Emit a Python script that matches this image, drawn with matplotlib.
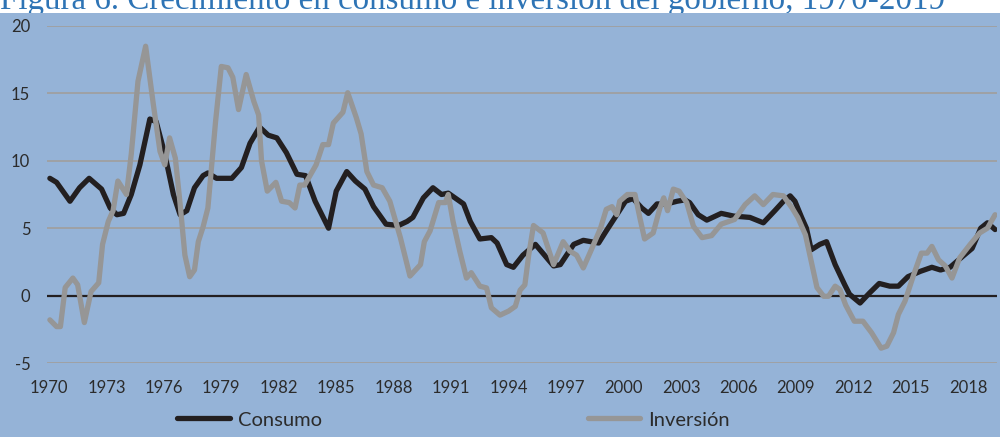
import matplotlib
matplotlib.use("Agg")
import matplotlib.pyplot as plt
from matplotlib.patches import Rectangle

# Consumo del gobierno (% crecimiento anual)
cons_t = [1970.05, 1970.4, 1971.1, 1971.6, 1972.1, 1972.75, 1973.2, 1973.55, 1973.9, 1974.3,
          1974.75, 1975.27, 1975.6, 1976.05, 1976.5, 1976.85, 1977.2, 1977.6, 1978.05, 1978.3,
          1978.75, 1979.55, 1980.05, 1980.5, 1981.0, 1981.45, 1981.9, 1982.4, 1982.95, 1983.4,
          1983.9, 1984.6, 1985.0, 1985.55, 1986.0, 1986.5, 1986.95, 1987.6, 1988.25, 1988.7,
          1989.0, 1989.55, 1990.05, 1990.5, 1990.85, 1991.65, 1992.0, 1992.5, 1993.1, 1993.4,
          1993.9, 1994.25, 1994.75, 1995.4, 1996.35, 1996.7, 1997.4, 1997.9, 1998.7, 1999.1,
          1999.65, 2000.1, 2000.5, 2000.95, 2001.3, 2001.75, 2002.25, 2002.8, 2003.2, 2003.45,
          2003.9, 2004.35, 2005.1, 2005.75, 2006.6, 2007.3, 2007.9, 2008.35, 2008.7, 2008.95,
          2009.3, 2009.55, 2009.8, 2010.25, 2010.6, 2011.05, 2011.55, 2011.8, 2012.35, 2012.85,
          2013.35, 2013.9, 2014.35, 2014.85, 2015.5, 2016.1, 2016.55, 2017.05, 2017.7, 2018.2,
          2018.65, 2019.0, 2019.4]
cons_v = [8.7, 8.4, 7.0, 8.0, 8.7, 7.9, 6.5, 6.0, 6.1, 7.5,
          9.7, 13.1, 12.9, 10.5, 7.5, 6.0, 6.3, 8.0, 8.9, 9.1,
          8.7, 8.7, 9.5, 11.3, 12.5, 11.9, 11.7, 10.6, 9.0, 8.9,
          7.0, 5.0, 7.75, 9.2, 8.5, 7.9, 6.6, 5.3, 5.2, 5.5,
          5.8, 7.25, 8.0, 7.5, 7.6, 6.8, 5.5, 4.2, 4.3, 3.9,
          2.3, 2.1, 3.0, 3.8, 2.2, 2.3, 3.8, 4.1, 3.9, 4.8,
          6.0, 7.0, 7.2, 6.5, 6.1, 6.8, 6.8, 7.0, 7.1, 6.9,
          6.0, 5.6, 6.1, 5.9, 5.8, 5.4, 6.3, 7.0, 7.4, 7.0,
          5.8, 5.0, 3.4, 3.8, 4.0, 2.3, 0.8, 0.1, -0.55, 0.2,
          0.9, 0.7, 0.7, 1.4, 1.8, 2.1, 1.9, 2.1, 2.9, 3.5,
          5.0, 5.4, 4.9]

# Inversión del gobierno
inv_t = [1970.05, 1970.4, 1970.6, 1970.85, 1971.25, 1971.5, 1971.85, 1972.2, 1972.6, 1972.8,
         1973.1, 1973.35, 1973.6, 1974.05, 1974.3, 1974.65, 1975.05, 1975.45, 1975.8, 1976.05,
         1976.3, 1976.6, 1976.85, 1977.1, 1977.35, 1977.6, 1977.8, 1978.05, 1978.3, 1978.7,
         1979.0, 1979.35, 1979.6, 1979.9, 1980.3, 1980.7, 1980.95, 1981.1, 1981.4, 1981.85,
         1982.15, 1982.55, 1982.85, 1983.1, 1983.35, 1983.95, 1984.3, 1984.6, 1984.85, 1985.35,
         1985.6, 1986.05, 1986.3, 1986.6, 1986.95, 1987.4, 1987.8, 1988.35, 1988.85, 1989.4,
         1989.6, 1989.9, 1990.35, 1990.7, 1990.85, 1991.1, 1991.45, 1991.8, 1992.05, 1992.5,
         1992.85, 1993.1, 1993.55, 1994.0, 1994.35, 1994.6, 1994.85, 1995.05, 1995.3, 1995.8,
         1996.35, 1996.85, 1997.2, 1997.55, 1997.9, 1998.35, 1998.8, 1999.1, 1999.4, 1999.65,
         1999.8, 2000.2, 2000.6, 2000.85, 2001.1, 2001.55, 2001.9, 2002.1, 2002.3, 2002.6,
         2002.9, 2003.3, 2003.65, 2004.1, 2004.6, 2005.1, 2005.8, 2006.35, 2006.85, 2007.3,
         2007.8, 2008.35, 2008.8, 2009.1, 2009.5, 2009.8, 2010.1, 2010.45, 2010.7, 2011.05,
         2011.3, 2011.6, 2012.05, 2012.5, 2012.95, 2013.45, 2013.75, 2014.1, 2014.35, 2014.7,
         2015.15, 2015.55, 2015.85, 2016.1, 2016.45, 2016.8, 2017.15, 2017.55, 2018.1, 2018.6,
         2019.0, 2019.4]
inv_v = [-1.8, -2.3, -2.3, 0.6, 1.3, 0.8, -2.0, 0.3, 0.95, 3.8,
         5.5, 6.3, 8.5, 7.5, 10.5, 15.9, 18.5, 14.2, 10.7, 9.7,
         11.7, 10.2, 6.8, 3.0, 1.4, 1.9, 4.0, 5.1, 6.5, 12.9,
         17.0, 16.9, 16.2, 13.8, 16.4, 14.4, 13.4, 10.0, 7.75, 8.4,
         7.0, 6.9, 6.5, 8.2, 8.2, 9.7, 11.2, 11.2, 12.8, 13.6,
         15.05, 13.2, 12.0, 9.2, 8.2, 8.0, 7.0, 4.3, 1.45, 2.3,
         4.0, 4.8, 6.9, 6.9, 7.5, 5.5, 3.3, 1.3, 1.7, 0.7,
         0.57, -0.9, -1.45, -1.15, -0.8, 0.4, 0.8, 3.0, 5.2, 4.65,
         2.3, 4.0, 3.3, 3.0, 2.05, 3.5, 5.0, 6.4, 6.6, 6.0,
         7.0, 7.5, 7.5, 5.8, 4.2, 4.65, 6.5, 7.25, 6.3, 7.9,
         7.75, 6.9, 5.15, 4.3, 4.45, 5.3, 5.65, 6.75, 7.4, 6.75,
         7.5, 7.4, 6.5, 5.8, 4.5, 2.55, 0.6, -0.05, -0.05, 0.7,
         0.45, -0.7, -1.9, -1.9, -2.75, -3.9, -3.75, -2.75, -1.4, -0.4,
         1.55, 3.15, 3.15, 3.65, 2.65, 2.2, 1.3, 2.8, 3.8, 4.65,
         5.0, 6.0]

year_ticks = list(range(1970, 2019, 3))
y_ticks = [-5, 0, 5, 10, 15, 20]
title = "Figura 6. Crecimiento en consumo e inversión del gobierno, 1970-2019"

BG = "#95B3D7"
BLACK = "#231F20"
GREY = "#969696"
TXT = "#2b2b2b"

plt.rcParams["font.family"] = ["Lato", "DejaVu Sans"]
plt.rcParams["axes.unicode_minus"] = False

fig = plt.figure(figsize=(10, 4.37), dpi=100, facecolor="white")
# title is partly hidden behind the blue chart panel, as in the source
fig.text(0.0, 1 - 9 / 437, title, family="Liberation Serif", fontsize=23.8,
         color="#2E74B5", ha="left", va="baseline", zorder=-3)
fig.patches.append(Rectangle((0, 0), 1, 1 - 13 / 437, transform=fig.transFigure,
                             facecolor=BG, edgecolor="none", zorder=-1))

ax = fig.add_axes([0.047, 1 - 363 / 437, 0.95, (363 - 26) / 437])
ax.set_facecolor("none")

for yv in y_ticks:
    if yv != 0:
        ax.axhline(yv, color="#A0A0A0", lw=1.3, zorder=1)
ax.axhline(0, color=BLACK, lw=1.6, zorder=2)

ax.plot(cons_t, cons_v, color=BLACK, lw=3.8, solid_joinstyle="round",
        solid_capstyle="round", label="Consumo", zorder=3)
ax.plot(inv_t, inv_v, color=GREY, lw=3.8, solid_joinstyle="round",
        solid_capstyle="round", label="Inversión", zorder=4)

ax.set_xlim(1969.9, 2019.5)
ax.set_ylim(-5, 20)
ax.set_xticks(year_ticks)
ax.set_xticklabels([str(y) for y in year_ticks])
ax.set_yticks(y_ticks)
ax.tick_params(axis="both", length=0, labelsize=12, colors=TXT)
ax.tick_params(axis="y", pad=12)
ax.tick_params(axis="x", pad=12)
for s in ax.spines.values():
    s.set_visible(False)

fig.legend(loc="center", bbox_to_anchor=(0.4535, 0.039), ncol=2, frameon=False,
           handlelength=2.6, handletextpad=0.4, columnspacing=13.2, fontsize=14.5,
           labelcolor=TXT)

fig.savefig("out.png", dpi=100, facecolor=fig.get_facecolor())
